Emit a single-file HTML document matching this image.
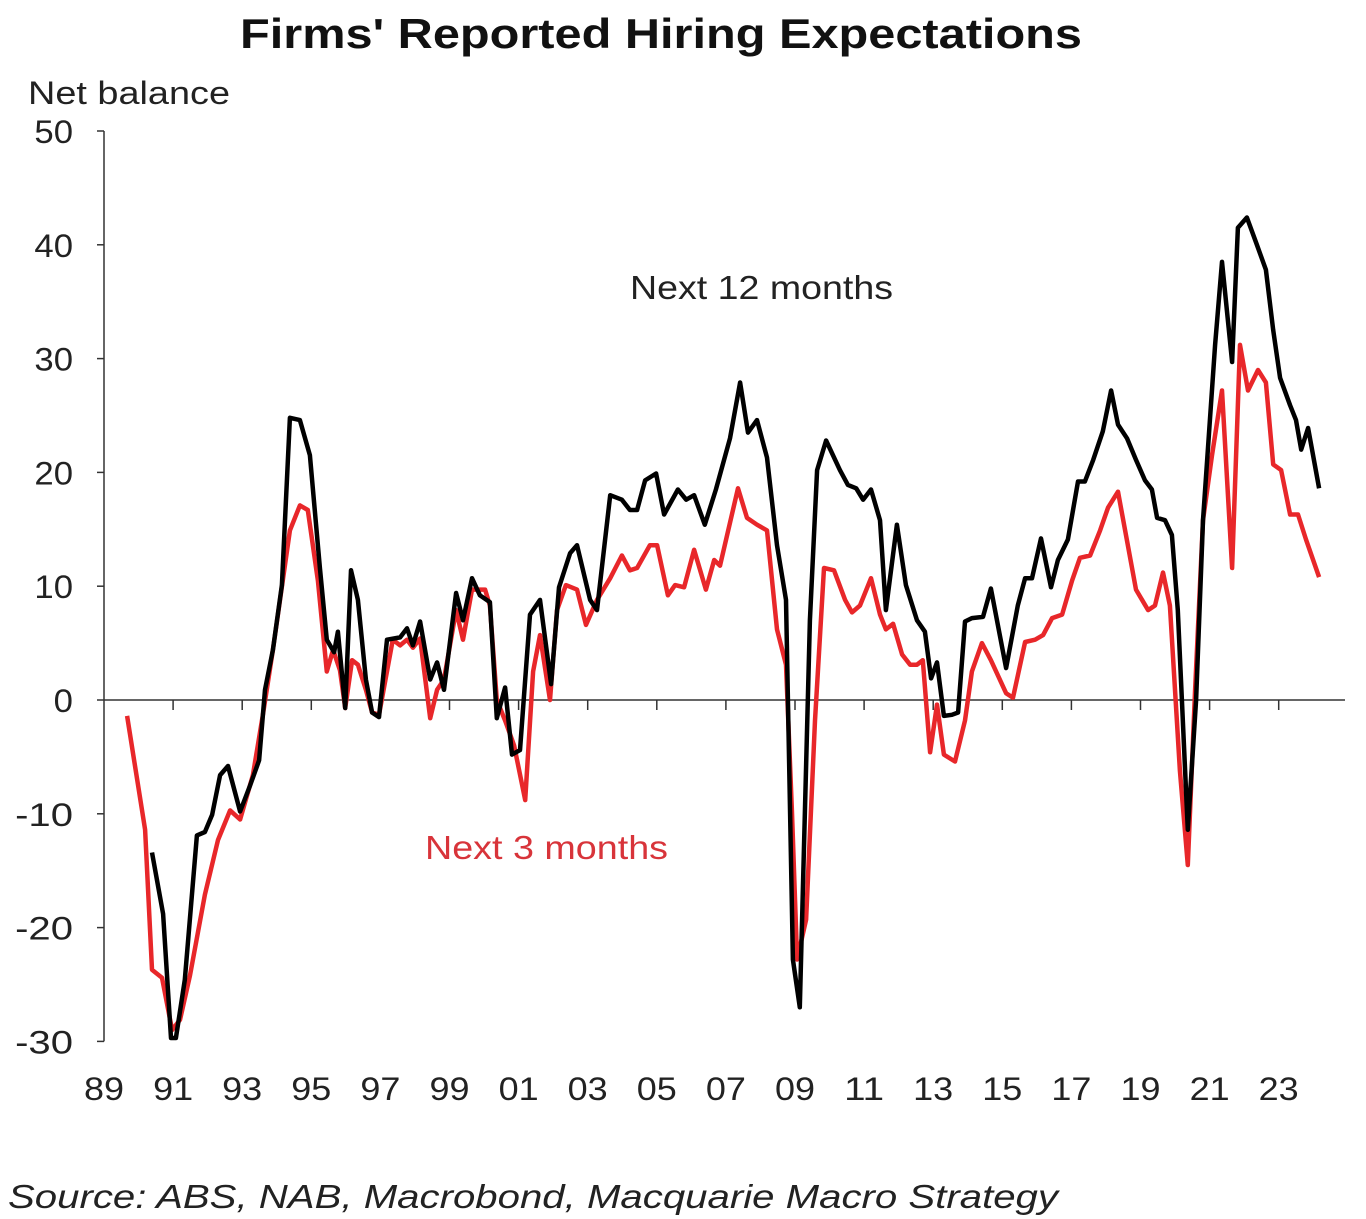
<!DOCTYPE html>
<html><head><meta charset="utf-8"><style>
body{margin:0;background:#fff;}
svg{display:block;font-family:"Liberation Sans",sans-serif;}
</style></head><body>
<svg id="chart" width="1366" height="1219" viewBox="0 0 1366 1219">
<text x="240" y="48" textLength="842" lengthAdjust="spacingAndGlyphs" font-size="42" font-weight="bold" fill="#111">Firms' Reported Hiring Expectations</text>
<text x="28" y="104" textLength="202" lengthAdjust="spacingAndGlyphs" font-size="32" fill="#222">Net balance</text>
<text x="8" y="1208" textLength="1050" lengthAdjust="spacingAndGlyphs" font-size="33" font-style="italic" fill="#222">Source: ABS, NAB, Macrobond, Macquarie Macro Strategy</text>
<g id="axes"></g>
<g id="series"></g>
<text x="630" y="299" textLength="263" lengthAdjust="spacingAndGlyphs" font-size="33" fill="#222">Next  12 months</text>
<text x="425" y="859" textLength="243" lengthAdjust="spacingAndGlyphs" font-size="33" fill="#d8343a">Next  3 months</text>
</svg>
<script>
const yTicks = [50,40,30,20,10,0,-10,-20,-30];
const xTickLabels = ["89","91","93","95","97","99","01","03","05","07","09","11","13","15","17","19","21","23"];
const t12 = [1.39,1.71,1.94,2.08,2.34,2.69,2.92,3.13,3.36,3.59,3.94,4.23,4.49,4.66,4.89,5.15,5.38,5.67,5.96,6.25,6.45,6.66,6.77,6.98,7.15,7.35,7.58,7.76,7.96,8.19,8.57,8.77,8.94,9.15,9.44,9.64,9.84,10.19,10.39,10.65,10.88,11.17,11.37,11.61,11.81,12.04,12.33,12.62,12.94,13.17,13.49,13.69,14.07,14.27,14.65,14.99,15.22,15.43,15.66,15.98,16.21,16.61,16.85,17.08,17.39,17.71,18.12,18.41,18.64,18.90,19.19,19.48,19.74,19.94,20.14,20.43,20.64,20.90,21.30,21.53,21.77,21.97,22.20,22.46,22.63,22.95,23.21,23.53,23.76,23.94,24.11,24.31,24.54,24.72,24.92,25.12,25.44,25.67,26.11,26.45,26.66,26.86,27.12,27.41,27.61,27.90,28.19,28.39,28.63,28.91,29.15,29.35,29.61,29.87,30.13,30.33,30.48,30.71,30.91,31.08,31.37,31.61,31.81,32.01,32.16,32.36,32.65,32.82,33.08,33.37,33.63,33.84,34.04,34.33,34.50,34.65,34.85,35.17];
const v12 = [-13.4,-18.8,-29.7,-29.7,-24.6,-11.9,-11.6,-10.1,-6.6,-5.8,-9.8,-7.5,-5.3,0.9,4.4,10.1,24.8,24.6,21.5,11.6,5.3,4.2,6.0,-0.7,11.4,8.8,1.8,-1.1,-1.5,5.3,5.5,6.3,4.8,6.9,1.8,3.3,0.9,9.4,7.0,10.7,9.2,8.6,-1.6,1.1,-4.8,-4.4,7.5,8.8,1.4,9.9,12.9,13.6,8.8,7.9,18.0,17.6,16.7,16.7,19.3,19.9,16.3,18.5,17.6,18.0,15.4,18.5,23.0,27.9,23.5,24.6,21.3,13.6,8.8,-22.8,-27.0,7.0,20.2,22.8,20.2,18.9,18.6,17.6,18.5,15.8,7.9,15.4,10.1,7.0,6.0,1.9,3.3,-1.4,-1.3,-1.1,6.9,7.2,7.3,9.8,2.8,8.3,10.7,10.7,14.2,9.9,12.3,14.1,19.2,19.2,21.1,23.6,27.2,24.2,23.0,21.1,19.3,18.5,16.0,15.8,14.5,7.9,-11.4,0,15.8,24.6,31.2,38.5,29.7,41.5,42.4,40.0,37.8,32.5,28.3,25.9,24.6,22.0,23.9,18.6];
const t3 = [0.67,1.19,1.39,1.68,1.97,2.20,2.49,2.92,3.30,3.65,3.94,4.31,4.60,4.89,5.38,5.67,5.90,6.19,6.45,6.63,6.83,6.98,7.18,7.35,7.58,7.76,7.96,8.36,8.57,8.77,8.94,9.15,9.44,9.64,9.84,10.19,10.39,10.65,11.03,11.17,11.37,11.61,11.87,12.19,12.42,12.62,12.91,13.11,13.37,13.69,13.95,14.27,14.65,14.99,15.22,15.43,15.80,16.01,16.32,16.53,16.79,17.08,17.42,17.66,17.83,18.35,18.61,18.90,19.19,19.48,19.74,19.91,20.06,20.32,20.58,20.84,21.13,21.45,21.65,21.88,22.20,22.46,22.63,22.84,23.10,23.33,23.53,23.70,23.91,24.11,24.31,24.63,24.92,25.12,25.41,25.67,26.11,26.31,26.66,26.95,27.18,27.44,27.73,28.02,28.25,28.54,28.83,29.06,29.35,29.87,30.22,30.42,30.65,30.85,31.14,31.37,31.58,31.81,32.07,32.36,32.65,32.88,33.11,33.40,33.63,33.84,34.07,34.33,34.56,34.79,35.17];
const v3 = [-1.4,-11.4,-23.7,-24.4,-29.0,-28.1,-24.2,-17.1,-12.3,-9.7,-10.5,-6.6,-1.3,4.4,14.9,17.1,16.7,10.5,2.5,4.4,2.6,-0.7,3.5,3.1,0.9,-1.1,-1.3,5.3,4.8,5.3,4.6,5.4,-1.6,0.9,1.8,7.9,5.3,9.7,9.7,8.3,0,-1.8,-4.0,-8.8,2.5,5.7,0,7.9,10.1,9.7,6.6,8.8,10.7,12.7,11.4,11.6,13.6,13.6,9.2,10.1,9.9,13.2,9.7,12.3,11.8,18.6,16.0,15.4,14.9,6.2,3.1,-9.7,-22.8,-19.3,-1.8,11.6,11.4,8.8,7.7,8.3,10.7,7.5,6.2,6.7,4.0,3.1,3.1,3.5,-4.6,-0.4,-4.8,-5.4,-1.8,2.5,5.0,3.5,0.6,0.2,5.1,5.3,5.7,7.2,7.5,10.5,12.5,12.7,14.9,16.9,18.3,9.7,7.9,8.3,11.2,8.3,-6.2,-14.5,0.9,15.8,21.5,27.2,11.6,31.2,27.2,29.0,27.9,20.7,20.2,16.3,16.3,14.1,10.8];

const NS='http://www.w3.org/2000/svg';
const X0=104, PX_PER_YEAR=34.55, Y0=700, PX_PER_UNIT=11.38;
function xs(t){return X0+t*PX_PER_YEAR;}
function ys(v){return Y0-v*PX_PER_UNIT;}
function mk(tag,attrs,parent){const e=document.createElementNS(NS,tag);for(const k in attrs)e.setAttribute(k,attrs[k]);parent.appendChild(e);return e;}
const axes=document.getElementById('axes');
const yl=mk('line',{x1:X0,y1:ys(50),x2:X0,y2:ys(-30),stroke:'#333','stroke-width':1.5},axes);


const zl=mk('line',{x1:X0,y1:Y0,x2:1345,y2:Y0,stroke:'#333','stroke-width':1.5},axes);


yTicks.forEach(v=>{
  const tk=mk('line',{x1:X0-7,y1:ys(v),x2:X0,y2:ys(v),stroke:'#333','stroke-width':1.5},axes);
  
  
  const s=String(v);
  const tx=mk('text',{x:73-s.length*19.3,y:ys(v)+12,'font-size':32,fill:'#222',textLength:s.length*19.3,lengthAdjust:'spacingAndGlyphs'},axes);
  tx.textContent=s;
  
  
});
xTickLabels.forEach((lab,i)=>{
  const x=xs(i*2);
  if(i>0){
    const tk=mk('line',{x1:x,y1:Y0,x2:x,y2:Y0+10,stroke:'#333','stroke-width':1.5},axes);
    
    
  }
  const tx=mk('text',{x:x-20,y:1100,'font-size':32,fill:'#222',textLength:40,lengthAdjust:'spacingAndGlyphs'},axes);
  tx.textContent=lab;
  
  
});
const ser=document.getElementById('series');
function path(ts,vs){return ts.map((t,i)=>(i?'L':'M')+xs(t).toFixed(1)+' '+ys(vs[i]).toFixed(1)).join(' ');}
const p3=mk('path',{d:path(t3,v3),fill:'none',stroke:'#e8272a','stroke-width':4.5,'stroke-linejoin':'round'},ser);


const p12=mk('path',{d:path(t12,v12),fill:'none',stroke:'#000','stroke-width':4.5,'stroke-linejoin':'round'},ser);


</script>
</body></html>
